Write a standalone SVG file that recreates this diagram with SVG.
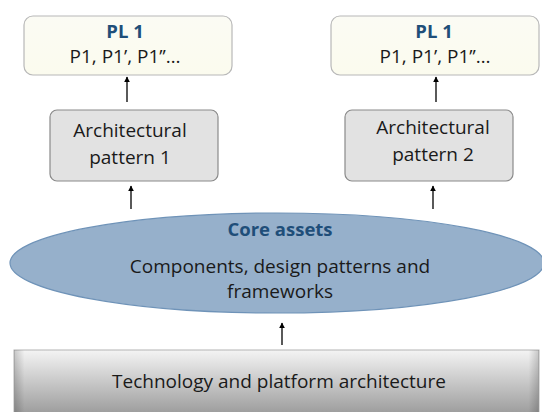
<svg xmlns="http://www.w3.org/2000/svg" width="542" height="412" viewBox="0 0 542 412">
<style>
text{font-family:"Open Sans","Noto Sans","Liberation Sans",sans-serif;text-anchor:middle;fill:#1a1a1a}
.t{font-size:19px}
.h{font-size:18.5px;font-weight:bold;fill:#1f4e79}
.pl{fill:url(#plg);stroke:#b8b8b8;stroke-width:1.2}
.ap{fill:#e2e2e2;stroke:#8a8a8a;stroke-width:1.2}
.c line{stroke:#000;stroke-width:1.3;marker-end:url(#ah)}
</style>
<defs>
<linearGradient id="plg" x1="0" y1="0" x2="0" y2="1">
<stop offset="0" stop-color="#fbfbf4"/>
<stop offset="1" stop-color="#fbfbee"/>
</linearGradient>
<linearGradient id="bg" x1="0" y1="0" x2="0" y2="1">
<stop offset="0" stop-color="#f4f4f4"/>
<stop offset="1" stop-color="#9c9c9c"/>
</linearGradient>
<linearGradient id="bh" x1="0" y1="0" x2="1" y2="0">
<stop offset="0" stop-color="#000" stop-opacity="0.18"/>
<stop offset="0.02" stop-color="#000" stop-opacity="0"/>
<stop offset="0.98" stop-color="#000" stop-opacity="0"/>
<stop offset="1" stop-color="#000" stop-opacity="0.18"/>
</linearGradient>
<marker id="ah" viewBox="0 0 10 10" refX="9" refY="5" markerWidth="6" markerHeight="6" orient="auto" markerUnits="userSpaceOnUse">
<path d="M0,0 L10,5 L0,10 z" fill="#000"/>
</marker>
</defs>

<g id="pl1-left">
<rect class="pl" x="24" y="16" width="208" height="59" rx="9"/>
<text class="h" x="125" y="38">PL 1</text>
<text class="t" x="125" y="63">P1, P1’, P1’’…</text>
</g>
<g id="pl1-right">
<rect class="pl" x="331" y="16" width="208" height="59" rx="9"/>
<text class="h" x="434" y="38">PL 1</text>
<text class="t" x="435" y="63">P1, P1’, P1’’…</text>
</g>
<g id="arch1">
<rect class="ap" x="50" y="110" width="168" height="71" rx="7"/>
<text class="t" x="130" y="137">Architectural</text>
<text class="t" x="130" y="164">pattern 1</text>
</g>
<g id="arch2">
<rect class="ap" x="345" y="110" width="168" height="71" rx="7"/>
<text class="t" x="433" y="134">Architectural</text>
<text class="t" x="433" y="161">pattern 2</text>
</g>
<g id="core">
<ellipse cx="277" cy="263" rx="267" ry="50" fill="#96b0cb" stroke="#6f93b8" stroke-width="1.2"/>
<text class="h" x="280" y="236">Core assets</text>
<text class="t" x="280" y="273">Components, design patterns and</text>
<text class="t" x="280" y="298">frameworks</text>
</g>
<g id="tech">
<rect x="14" y="350" width="525" height="64" fill="url(#bg)" stroke="#b4b4b4" stroke-width="1"/>
<rect x="14" y="350" width="525" height="64" fill="url(#bh)"/>
<text class="t" x="279" y="388">Technology and platform architecture</text>
</g>
<g id="connectors" class="c">
<line x1="127" y1="102" x2="127" y2="77"/>
<line x1="436" y1="102" x2="436" y2="77"/>
<line x1="131" y1="209" x2="131" y2="186"/>
<line x1="433" y1="209" x2="433" y2="186"/>
<line x1="282" y1="345" x2="282" y2="323"/>
</g>
</svg>
